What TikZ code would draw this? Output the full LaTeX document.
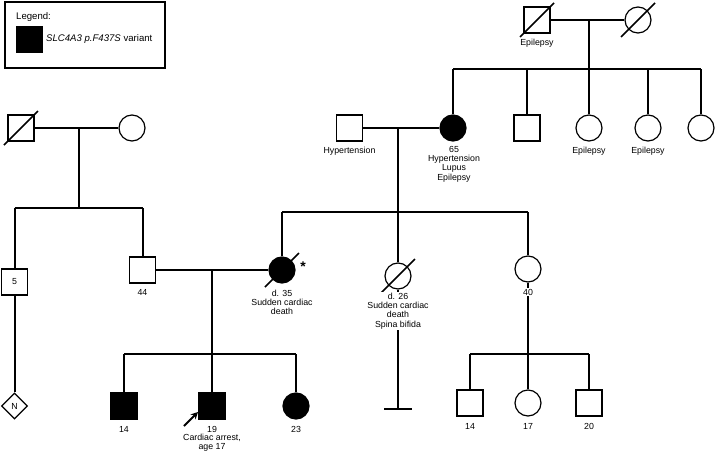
\documentclass[tikz,border=0pt]{standalone}
\usepackage{fontspec}
\setmainfont{Liberation Sans}
\usetikzlibrary{shapes.geometric,arrows.meta}
\begin{document}
\begin{tikzpicture}[x=1pt,y=-1pt,
  male/.style={draw,rectangle,minimum size=26pt,inner sep=0pt,line width=1.2pt},
  female/.style={draw,circle,minimum size=26pt,inner sep=0pt,line width=1.2pt},
  aff/.style={fill=black},
  unk/.style={draw,diamond,aspect=1,minimum size=26pt,inner sep=0pt,line width=1.2pt},
  conn/.style={line width=2pt},
  lbl/.style={font=\fontsize{8.8}{9.3}\selectfont,align=center,inner sep=0.5pt},
  deadline/.style={line width=1.6pt}
]
\useasboundingbox (0,0) rectangle (716,453);
\fill[white] (0,0) rectangle (716,453);

% Legend
\draw[line width=2.2pt] (5,2) rectangle (165,68);
\node[anchor=west,font=\fontsize{9.6}{11}\selectfont,inner sep=0pt] (legt) at (16,17) {Legend:};
\node[draw,fill=black,minimum size=26pt,inner sep=0pt,line width=1pt] (legsq) at (29,39) {};
\node[anchor=west,font=\fontsize{9.6}{11}\selectfont,inner sep=0pt] (legv) at (46,39) {\textit{SLC4A3 p.F437S} variant};

% Generation I right
\node[male] (gf1) at (537,20) {};
\node[female] (gm1) at (638,20) {};
\coordinate (m1) at (589,20);
\coordinate (s1) at (589,69);
\coordinate (s1l) at (453,69);
\coordinate (s1a) at (527,69);
\coordinate (s1b) at (648,69);
\coordinate (s1r) at (701,69);

% Generation II right
\node[female,aff] (g65) at (453,128) {};
\node[male] (u1) at (527,128) {};
\node[female] (a1) at (589,128) {};
\node[female] (a2) at (648,128) {};
\node[female] (a3) at (701,128) {};
\node[male] (hyp) at (349.5,128) {};
\coordinate (m2) at (398,128);
\coordinate (s2) at (398,212);
\coordinate (s2l) at (282,212);
\coordinate (s2r) at (528,212);

% Generation I/II left
\node[male] (gf2) at (21,128) {};
\node[female] (gm2) at (132,128) {};
\coordinate (m3) at (79,128);
\coordinate (s3) at (79,208);
\coordinate (s3l) at (14.5,208);
\coordinate (s3r) at (142.5,208);

% Generation III
\node[male] (s5) at (14.5,282) {};
\node[unk] (nd) at (14.5,406) {};
\node[male] (s44) at (142.5,270) {};
\node[female,aff] (d35) at (282,270) {};
\node[female] (d26) at (398,276) {};
\node[female] (c40) at (528,269) {};
\coordinate (m4) at (212,270);
\coordinate (s4) at (212,354);
\coordinate (s4l) at (124,354);
\coordinate (s4r) at (296,354);
\coordinate (d26e) at (398,409);
\coordinate (d26bl) at (384,409);
\coordinate (d26br) at (412,409);
\coordinate (s5j) at (528,354);
\coordinate (s5l) at (470,354);
\coordinate (s5r) at (589,354);

% Generation IV
\node[male,aff] (c14) at (124,406) {};
\node[male,aff] (pro) at (212,406) {};
\node[female,aff] (c23) at (296,406) {};
\node[male] (e14) at (470,403) {};
\node[female] (e17) at (528,403) {};
\node[male] (e20) at (589,403) {};

% Connectors
\draw[conn] (gf1.east) -- (gm1.west);
\draw[conn] (m1) -- (s1);
\draw[conn] (s1l) -- (s1r);
\draw[conn] (s1l) -- (g65.north);
\draw[conn] (s1a) -- (u1.north);
\draw[conn] (s1) -- (a1.north);
\draw[conn] (s1b) -- (a2.north);
\draw[conn] (s1r) -- (a3.north);

\draw[conn] (hyp.east) -- (g65.west);
\draw[conn] (m2) -- (s2);
\draw[conn] (s2l) -- (s2r);
\draw[conn] (s2l) -- (d35.north);
\draw[conn] (s2) -- (d26.north);
\draw[conn] (s2r) -- (c40.north);

\draw[conn] (gf2.east) -- (gm2.west);
\draw[conn] (m3) -- (s3);
\draw[conn] (s3l) -- (s3r);
\draw[conn] (s3l) -- (s5.north);
\draw[conn] (s3r) -- (s44.north);
\draw[conn] (s5.south) -- (nd.north);

\draw[conn] (s44.east) -- (d35.west);
\draw[conn] (m4) -- (s4);
\draw[conn] (s4l) -- (s4r);
\draw[conn] (s4l) -- (c14.north);
\draw[conn] (s4) -- (pro.north);
\draw[conn] (s4r) -- (c23.north);

\draw[conn] (d26.south) -- (d26e);
\draw[conn] (d26bl) -- (d26br);

\draw[conn] (c40.south) -- (s5j);
\draw[conn] (s5l) -- (s5r);
\draw[conn] (s5l) -- (e14.north);
\draw[conn] (s5j) -- (e17.north);
\draw[conn] (s5r) -- (e20.north);

% Deceased slashes
\foreach \n in {gf1,gm1,gf2,d35,d26}
  \draw[deadline] ([shift={(-17,17)}]\n.center) -- ([shift={(17,-17)}]\n.center);

% Proband arrow
\coordinate (arrs) at (184,426);
\coordinate (arre) at (198,412);
\draw[conn,-{Stealth[length=7pt,width=7pt]}] (arrs) -- (arre);

% Labels
\node[lbl] (l1) at (537,43) {Epilepsy};
\node[lbl] (l2) at (589,151) {Epilepsy};
\node[lbl] (l3) at (648,151) {Epilepsy};
\node[lbl] (l4) at (349.5,151) {Hypertension};
\node[lbl] (l5) at (454,164) {65\\Hypertension\\Lupus\\Epilepsy};
\node[lbl] (l6) at (142.5,292) {44};
\node[lbl] (l7) at (282,302.5) {d. 35\\Sudden cardiac\\death};
\node[lbl,fill=white] (l8) at (398,311) {d. 26\\Sudden cardiac\\death\\Spina bifida};
\node[lbl,fill=white] (l9) at (528,292) {40};
\node[lbl] (l10) at (14.5,282) {5};
\node[lbl] (l11) at (14.5,406) {N};
\node[lbl] (l12) at (124,429) {14};
\node[lbl] (l13) at (212,429) {19};
\node[lbl] (l14) at (212,442.5) {Cardiac arrest,\\age 17};
\node[lbl] (l15) at (296,429) {23};
\node[lbl] (l16) at (470,426) {14};
\node[lbl] (l17) at (528,426) {17};
\node[lbl] (l18) at (589,426) {20};
\node[font=\fontsize{14}{14}\selectfont\bfseries,inner sep=0pt] (ast) at (303,267) {*};
\end{tikzpicture}
\end{document}
